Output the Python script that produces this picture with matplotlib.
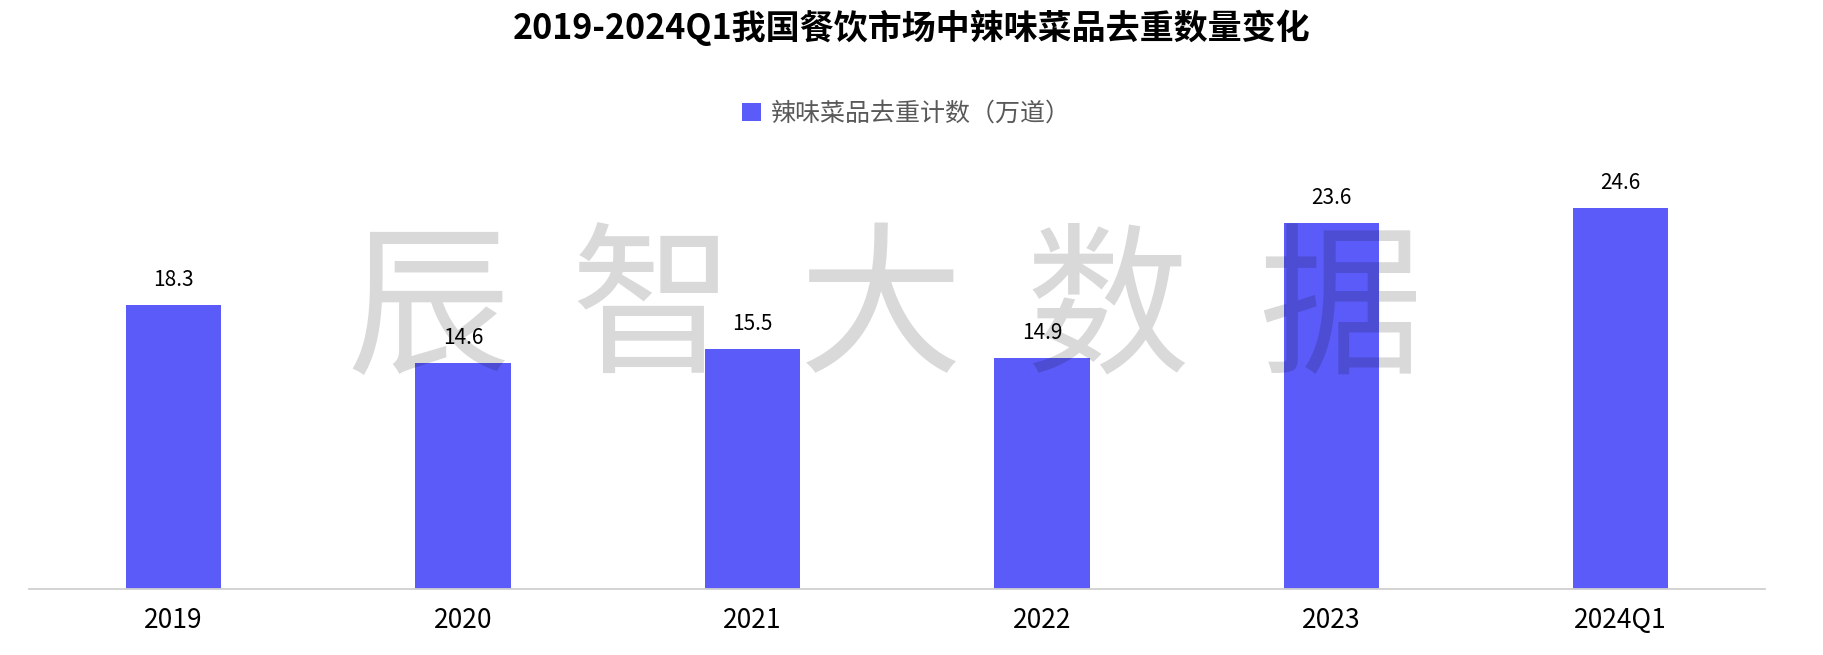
import matplotlib
matplotlib.use('Agg')
import matplotlib.pyplot as plt
from matplotlib.patches import Patch

plt.rcParams['font.family'] = ['Noto Sans CJK SC', 'DejaVu Sans']

categories = ['2019', '2020', '2021', '2022', '2023', '2024Q1']
values = [18.3, 14.6, 15.5, 14.9, 23.6, 24.6]
series_name = '辣味菜品去重计数（万道）'
title = '2019-2024Q1我国餐饮市场中辣味菜品去重数量变化'
watermark = '辰智大数据'

barColor = '#5b5bfa'

fig = plt.figure(figsize=(18.24, 6.55), dpi=100)
ax = fig.add_axes([0.0159, 0.1008, 0.952, 0.67])

x = range(len(categories))
bars = ax.bar(x, values, width=0.33, color=barColor, zorder=2)
for b, v in zip(bars, values):
    ax.text(b.get_x() + b.get_width() / 2, v + 0.9, f'{v:.1f}',
            ha='center', va='bottom', fontsize=15, color='black', zorder=6)

ax.set_xlim(-0.5, len(categories) - 0.5)
ax.set_ylim(0, 28.3)
ax.set_xticks(list(x))
ax.set_xticklabels(categories, fontsize=19, color='black')
ax.tick_params(axis='x', length=0, pad=13)
ax.set_yticks([])
for s in ['top', 'right', 'left']:
    ax.spines[s].set_visible(False)
ax.spines['bottom'].set_color('#d0d0d0')
ax.spines['bottom'].set_linewidth(1.3)

fig.text(0.5, 1 - 28 / 655, title, ha='center', va='center',
         fontsize=24.5, fontweight='bold', color='black')

handle = Patch(facecolor=barColor, edgecolor='none')
fig.legend([handle], [series_name], loc='center', bbox_to_anchor=(0.497, 1 - 114 / 655),
           frameon=False, fontsize=18, labelcolor='#595959',
           handlelength=0.75, handleheight=0.75, handletextpad=0.4)

# big watermark over the plot
wm_x = [428, 652, 881, 1108, 1340]
for ch, px in zip(watermark, wm_x):
    fig.text(px / 1824, 1 - 314 / 655, ch, ha='center', va='center',
             fontsize=118, color='black', alpha=0.15, zorder=5)

fig.savefig('out.png', dpi=100)
